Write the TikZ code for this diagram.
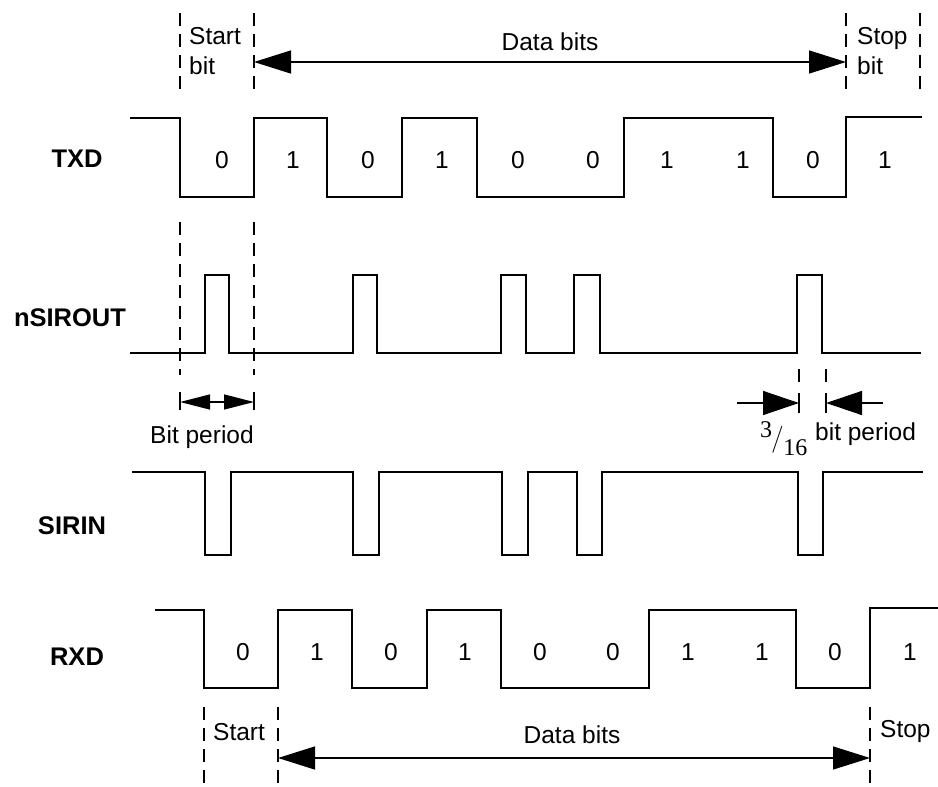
\documentclass[tikz,border=0pt]{standalone}
\usepackage{fontspec}
\setmainfont{Liberation Sans}
\newfontfamily\seriffont{Liberation Serif}
\usetikzlibrary{arrows.meta}
\begin{document}
\begin{tikzpicture}[x=1pt,y=-1pt,
  wave/.style={line width=1.6pt, line join=miter},
  guide/.style={line width=1.4pt, dash pattern=on 13pt off 8pt},
  tickmark/.style={line width=1.4pt},
  lbl/.style={font=\fontsize{25.5}{30}\selectfont\bfseries, inner sep=0pt, anchor=base},
  txt/.style={font=\fontsize{24.5}{29}\selectfont, inner sep=0pt, anchor=base},
  txtw/.style={txt, anchor=base west},
  bigtip/.style={line width=1.4pt, {Triangle[length=37pt,width=23pt]}-{Triangle[length=37pt,width=23pt]}},
  smalltip/.style={line width=1.4pt, {Triangle[length=30pt,width=15pt]}-{Triangle[length=30pt,width=15pt]}},
  intip/.style={line width=1.4pt, -{Triangle[length=36pt,width=24pt]}}
]
\useasboundingbox (0,0) rectangle (938,787);
\fill[white] (0,0) rectangle (938,787);

% ---------- top guides ----------
\draw[guide] (180,13) -- (180,93);
\draw[guide] (254,13) -- (254,93);
\draw[guide] (846,13) -- (846,93);
\draw[guide] (920,13) -- (920,93);
\coordinate (dtl) at (254,62);
\coordinate (dtr) at (846,62);
\draw[bigtip] (dtl) -- (dtr);
\node[txtw] (startT) at (189,45) {Start};
\node[txtw] (startT2) at (189,74) {bit};
\node[txt] (dataT) at (550,50) {Data bits};
\node[txtw] (stopT) at (857,45) {Stop};
\node[txtw] (stopT2) at (857,74) {bit};

% ---------- TXD ----------
\node[lbl] (txd) at (77,167) {TXD};
\draw[wave] (130,118) -- (180,118) -- (180,197) -- (254,197) -- (254,118) -- (327,118)
  -- (327,197) -- (402,197) -- (402,118) -- (477,118) -- (477,197) -- (624,197)
  -- (624,118) -- (773,118) -- (773,197) -- (846,197) -- (846,117) -- (922,117);
\foreach \x/\b [count=\i] in {222/0,293/1,368/0,442/1,518/0,593/0,667/1,743/1,813/0,885/1}
  \node[txt] (tb\i) at (\x,168) {\b};

% ---------- middle guides ----------
\draw[guide] (180,222) -- (180,375);
\draw[guide] (254,222) -- (254,375);

% ---------- nSIROUT ----------
\node[lbl] (nsir) at (70,326) {nSIROUT};
\draw[wave] (130,353) -- (205,353) -- (205,275) -- (229,275) -- (229,353)
  -- (353,353) -- (353,275) -- (377,275) -- (377,353)
  -- (501,353) -- (501,275) -- (526,275) -- (526,353)
  -- (574,353) -- (574,275) -- (600,275) -- (600,353)
  -- (797,353) -- (797,275) -- (822,275) -- (822,353) -- (921,353);

% ---------- bit period ----------
\draw[tickmark] (180,392) -- (180,410);
\draw[tickmark] (254,392) -- (254,410);
\coordinate (bpl) at (180,402);
\coordinate (bpr) at (254,402);
\draw[smalltip] (bpl) -- (bpr);
\node[txt] (bp) at (202,443) {Bit period};

% ---------- 3/16 bit period ----------
\draw[tickmark] (799,369) -- (799,382);
\draw[tickmark] (799,393) -- (799,413);
\draw[tickmark] (826,369) -- (826,382);
\draw[tickmark] (826,393) -- (826,413);
\coordinate (fl0) at (737,403);
\coordinate (fl1) at (799,403);
\coordinate (fr0) at (883,403);
\coordinate (fr1) at (826,403);
\draw[intip] (fl0) -- (fl1);
\draw[intip] (fr0) -- (fr1);
\node[anchor=base west, inner sep=0pt] (frac) at (760,446)
  {\seriffont\fontsize{24}{28}\selectfont\raisebox{8.5pt}{3}\kern-1pt{\fontsize{27}{30}\selectfont\sffamily\addfontfeature{}/}\kern-0.5pt\raisebox{-9pt}{16}};
\node[txtw] (fbp) at (815,440) {bit period};

% ---------- SIRIN ----------
\node[lbl] (sirin) at (72,534) {SIRIN};
\draw[wave] (132,472) -- (205,472) -- (205,555) -- (231,555) -- (231,472)
  -- (353,472) -- (353,555) -- (379,555) -- (379,472)
  -- (502,472) -- (502,555) -- (528,555) -- (528,472)
  -- (577,472) -- (577,555) -- (602,555) -- (602,472)
  -- (798,472) -- (798,555) -- (823,555) -- (823,472) -- (923,472);

% ---------- RXD ----------
\node[lbl] (rxd) at (77,665) {RXD};
\draw[wave] (155,610) -- (204,610) -- (204,688) -- (278,688) -- (278,610) -- (352,610)
  -- (352,688) -- (427,688) -- (427,610) -- (501,610) -- (501,688) -- (649,688)
  -- (649,610) -- (796,610) -- (796,688) -- (870,688) -- (870,608) -- (938,608);
\foreach \x/\b [count=\i] in {243/0,317/1,391/0,465/1,540/0,613/0,688/1,762/1,835/0,910/1}
  \node[txt] (rb\i) at (\x,660) {\b};

% ---------- bottom guides ----------
\draw[guide] (204,707) -- (204,787);
\draw[guide] (278,707) -- (278,787);
\draw[guide] (870,707) -- (870,787);
\coordinate (dbl) at (278,758);
\coordinate (dbr) at (870,758);
\draw[bigtip] (dbl) -- (dbr);
\node[txtw] (startB) at (213,740) {Start};
\node[txt] (dataB) at (572,743) {Data bits};
\node[txtw] (stopB) at (880,737) {Stop};
\end{tikzpicture}
\end{document}
